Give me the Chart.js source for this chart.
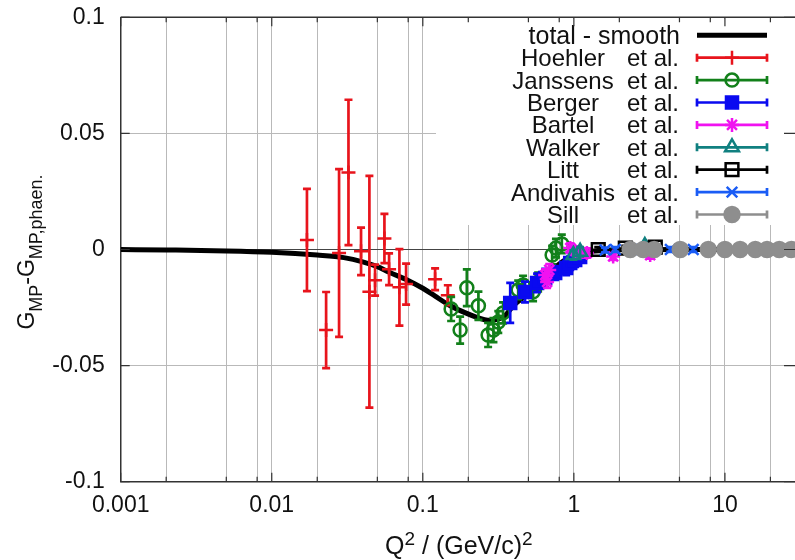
<!DOCTYPE html>
<html>
<head>
<meta charset="utf-8">
<script src="https://cdn.jsdelivr.net/npm/chart.js@4.4.1/dist/chart.umd.min.js"></script>
<style>
  html, body { margin: 0; padding: 0; background: #fff; overflow: hidden; }
  #wrap { width: 795px; height: 560px; overflow: hidden; position: relative; }
  #c { position: absolute; left: 0; top: 0; width: 800px; height: 560px; }
</style>
</head>
<body>
<div id="wrap"><canvas id="c" width="800" height="560"></canvas></div>
<script>
// ---- axis ticks ----
const xGridValues = [0.001, 0.002, 0.005, 0.008, 0.01, 0.02, 0.05, 0.08, 0.1, 0.2, 0.5, 0.8, 1, 2, 5, 8, 10, 20];
const xTickValues = [0.001, 0.01, 0.1, 1, 10];
const xTickLabels = ['0.001', '0.01', '0.1', '1', '10'];
const yTickValues = [-0.1, -0.05, 0, 0.05, 0.1];
const yTickLabels = ['-0.1', '-0.05', '0', '0.05', '0.1'];

// ---- total - smooth ----
const smoothQ2 = [0.001, 0.002, 0.005, 0.01, 0.02, 0.03, 0.04, 0.05, 0.06, 0.08, 0.1, 0.12, 0.15, 0.19, 0.23, 0.27, 0.3, 0.35, 0.4, 0.5, 0.6, 0.7, 0.85, 1.0, 1.3, 2, 5, 30];
const smoothG  = [0, -0.0002, -0.0006, -0.0012, -0.0024, -0.0035, -0.0053, -0.0074, -0.0098, -0.0133, -0.0167, -0.0200, -0.0240, -0.0272, -0.0293, -0.0305, -0.0303, -0.0285, -0.0240, -0.0190, -0.0135, -0.0095, -0.0050, -0.0028, -0.0008, -0.0001, 0, 0];

// ---- data sets: Q2, value, error ----
const hoehlerQ2  = [0.0171, 0.0229, 0.0279, 0.0322, 0.0390, 0.0443, 0.0483, 0.0557, 0.0598, 0.0700, 0.0775, 0.1206, 0.1464];
const hoehlerG   = [0.0041, -0.0347, -0.0015, 0.0332, -0.0008, -0.0182, -0.0132, 0.0047, -0.0085, -0.0163, -0.0149, -0.0128, -0.0197];
const hoehlerErr = [0.0220, 0.0164, 0.0361, 0.0313, 0.0102, 0.0499, 0.0067, 0.0106, 0.0068, 0.0165, 0.0088, 0.0047, 0.0043];

const janssensQ2  = [0.154, 0.1766, 0.1956, 0.2334, 0.2706, 0.2935, 0.316, 0.340, 0.428, 0.461, 0.537, 0.580, 0.718, 0.761, 0.832];
const janssensG   = [-0.0256, -0.0347, -0.0165, -0.0242, -0.0368, -0.0347, -0.0312, -0.0273, -0.0174, -0.0153, -0.0182, -0.0140, -0.0024, 0.0006, 0.0024];
const janssensErr = [0.0052, 0.0058, 0.0079, 0.0061, 0.0052, 0.0052, 0.0047, 0.0045, 0.0040, 0.0040, 0.0040, 0.0040, 0.0040, 0.0040, 0.0040];

const bergerQ2  = [0.379, 0.475, 0.571, 0.646, 0.752, 0.889, 0.946, 1.02, 1.10];
const bergerG   = [-0.0230, -0.0183, -0.0144, -0.0123, -0.0101, -0.0080, -0.0058, -0.0045, -0.0032];
const bergerErr = [0.0086, 0.0045, 0.0040, 0.0040, 0.0030, 0.0030, 0.0030, 0.0030, 0.0020];

const bartelQ2  = [0.646, 0.665, 0.687, 0.946, 1.02, 1.10, 1.22, 1.82, 3.2];
const bartelG   = [-0.0110, -0.0140, -0.0088, 0.0006, -0.0006, -0.0015, -0.0015, -0.0030, -0.0024];
const bartelErr = [0.0025, 0.0025, 0.0025, 0.0020, 0.0020, 0.0020, 0.0020, 0.0015, 0.0015];

const walkerQ2  = [0.993, 1.10, 2.95];
const walkerG   = [-0.0024, -0.0010, 0.0015];
const walkerErr = [0.0020, 0.0020, 0.0015];

const littQ2  = [1.45, 2.19, 3.46];
const littG   = [0.0000, 0.0006, 0.0010];
const littErr = [0.0010, 0.0010, 0.0010];

const andivahisQ2  = [1.61, 1.88, 2.76, 4.35, 6.17];
const andivahisG   = [-0.0002, 0.0000, 0.0000, 0.0000, 0.0000];
const andivahisErr = [0.0010, 0.0010, 0.0010, 0.0010, 0.0010];

const sillQ2  = [2.36, 2.88, 3.40, 5.06, 7.76, 10.0, 12.6, 15.9, 19.0, 22.9, 27.5];
const sillG   = [0, 0, 0, 0, 0, 0, 0, 0, 0, 0, 0];
const sillErr = [0.0008, 0.0008, 0.0008, 0.0008, 0.0008, 0.0008, 0.0008, 0.0008, 0.0008, 0.0008, 0.0008];

// ---- series appearance ----
const series = [
  { name: 'Hoehler',   q: hoehlerQ2,   g: hoehlerG,   e: hoehlerErr,   color: '#e8141c', style: 'cross',    r: 7,   fill: false },
  { name: 'Janssens',  q: janssensQ2,  g: janssensG,  e: janssensErr,  color: '#12801a', style: 'circle',   r: 6.5, fill: false },
  { name: 'Berger',    q: bergerQ2,    g: bergerG,    e: bergerErr,    color: '#0a0af0', style: 'rect',     r: 8.5, fill: true },
  { name: 'Bartel',    q: bartelQ2,    g: bartelG,    e: bartelErr,    color: '#f012f0', style: 'star',     r: 7,   fill: false },
  { name: 'Walker',    q: walkerQ2,    g: walkerG,    e: walkerErr,    color: '#108080', style: 'triangle', r: 8,   fill: false },
  { name: 'Litt',      q: littQ2,      g: littG,      e: littErr,      color: '#000000', style: 'rect',     r: 9,   fill: false },
  { name: 'Andivahis', q: andivahisQ2, g: andivahisG, e: andivahisErr, color: '#1a5cf5', style: 'crossRot', r: 7.5, fill: false },
  { name: 'Sill',      q: sillQ2,      g: sillG,      e: sillErr,      color: '#8e8e8e', style: 'circle',   r: 7.5, fill: true }
];

const FONT = "'Liberation Sans', Arial, Helvetica, sans-serif";
Chart.defaults.font.family = FONT;
Chart.defaults.color = '#111';

const datasets = [{
  label: 'total - smooth',
  data: smoothQ2.map((q, i) => ({ x: q, y: smoothG[i] })),
  showLine: true,
  borderColor: '#000',
  borderWidth: 5,
  pointRadius: 0,
  cubicInterpolationMode: 'monotone',
  borderJoinStyle: 'round',
  order: 20
}];
series.forEach((s, k) => {
  datasets.push({
    label: s.name + ' et al.',
    data: s.q.map((q, i) => ({ x: q, y: s.g[i] })),
    errors: s.e,
    showLine: false,
    borderColor: s.color,
    backgroundColor: s.fill ? s.color : 'rgba(0,0,0,0)',
    pointStyle: s.style,
    pointRadius: s.r,
    pointBorderWidth: 2.5,
    order: 10 - k
  });
});

// vertical error bars with caps, drawn just before each data set's markers
const errorBars = {
  id: 'errorBars',
  beforeDatasetDraw(chart, args) {
    const ds = chart.data.datasets[args.index];
    if (!ds.errors) return;
    const { ctx, chartArea: a } = chart;
    const xs = chart.scales.x, ys = chart.scales.y;
    ctx.save();
    ctx.beginPath();
    ctx.rect(a.left, a.top, a.right - a.left, a.bottom - a.top);
    ctx.clip();
    ctx.strokeStyle = ds.borderColor;
    ctx.lineWidth = 2.7;
    ds.data.forEach((p, i) => {
      const e = ds.errors[i];
      const px = xs.getPixelForValue(p.x);
      const y1 = ys.getPixelForValue(p.y + e);
      const y2 = ys.getPixelForValue(p.y - e);
      ctx.beginPath();
      ctx.moveTo(px, y1); ctx.lineTo(px, y2);
      ctx.moveTo(px - 4, y1); ctx.lineTo(px + 4, y1);
      ctx.moveTo(px - 4, y2); ctx.lineTo(px + 4, y2);
      ctx.stroke();
    });
    ctx.restore();
  }
};

function marker(ctx, s, x, y) {
  ctx.fillStyle = s.fill ? s.color : 'rgba(0,0,0,0)';
  ctx.strokeStyle = s.color;
  ctx.lineWidth = 2.5;
  Chart.helpers.drawPoint(ctx, { pointStyle: s.style, radius: s.r, rotation: 0, borderWidth: 2.5 }, x, y);
}

// opaque key in the upper right corner
const keyBox = {
  id: 'keyBox',
  afterDatasetsDraw(chart) {
    const ctx = chart.ctx;
    const a = chart.chartArea;
    ctx.save();
    ctx.fillStyle = '#fff';
    ctx.fillRect(436, a.top + 1.5, a.right - 436, 225 - a.top - 1.5);
    const rowY0 = 35.3, step = 22.4;
    const x1 = 697, x2 = 767, xm = (x1 + x2) / 2;
    ctx.font = '24px ' + FONT;
    ctx.fillStyle = '#111';
    ctx.textBaseline = 'alphabetic';
    // line entry
    ctx.textAlign = 'right';
    ctx.font = '25px ' + FONT;
    ctx.fillText('total - smooth', 680, rowY0 + 8.5);
    ctx.font = '24px ' + FONT;
    ctx.strokeStyle = '#000';
    ctx.lineWidth = 5;
    ctx.beginPath(); ctx.moveTo(x1, rowY0); ctx.lineTo(x2, rowY0); ctx.stroke();
    series.forEach((s, k) => {
      const y = rowY0 + step * (k + 1);
      ctx.fillStyle = '#111';
      ctx.textAlign = 'center';
      ctx.fillText(s.name, 563, y + 8.5);
      ctx.textAlign = 'left';
      ctx.fillText('et al.', 627, y + 8.5);
      ctx.strokeStyle = s.color;
      ctx.lineWidth = 2.7;
      ctx.beginPath();
      ctx.moveTo(x1, y); ctx.lineTo(x2, y);
      ctx.moveTo(x1, y - 4); ctx.lineTo(x1, y + 4);
      ctx.moveTo(x2, y - 4); ctx.lineTo(x2, y + 4);
      ctx.stroke();
      marker(ctx, s, xm, y);
    });
    ctx.restore();
  }
};

function richText(ctx, parts, x, y, big, small, shiftSup, shiftSub, measureOnly) {
  let w = 0;
  parts.forEach(p => {
    const sz = p.t === 'n' ? big : small;
    ctx.font = sz + 'px ' + FONT;
    const dy = p.t === 'sup' ? -shiftSup : (p.t === 'sub' ? shiftSub : 0);
    if (!measureOnly) ctx.fillText(p.s, x + w, y + dy);
    w += ctx.measureText(p.s).width;
  });
  return w;
}

// frame, inward tick marks and axis titles
const frame = {
  id: 'frame',
  afterDraw(chart) {
    const { ctx, chartArea: a } = chart;
    const xs = chart.scales.x, ys = chart.scales.y;
    ctx.save();
    ctx.strokeStyle = '#333';
    ctx.lineWidth = 1.5;
    ctx.beginPath(); ctx.moveTo(a.left, a.top); ctx.lineTo(a.right, a.top); ctx.stroke();
    ctx.lineWidth = 1.2;
    ctx.beginPath();
    xGridValues.forEach(v => {
      const px = xs.getPixelForValue(v);
      const len = xTickValues.includes(v) ? 9 : 5;
      ctx.moveTo(px, a.bottom); ctx.lineTo(px, a.bottom - len);
      ctx.moveTo(px, a.top); ctx.lineTo(px, a.top + len);
    });
    yTickValues.forEach(v => {
      const py = ys.getPixelForValue(v);
      ctx.moveTo(a.left, py); ctx.lineTo(a.left + 9, py);
      ctx.moveTo(a.right, py); ctx.lineTo(a.right - 13, py);
    });
    ctx.stroke();

    ctx.fillStyle = '#111';
    ctx.textAlign = 'left';
    ctx.textBaseline = 'alphabetic';
    // x title
    const xParts = [{ s: 'Q', t: 'n' }, { s: '2', t: 'sup' }, { s: ' / (GeV/c)', t: 'n' }, { s: '2', t: 'sup' }];
    const wx = richText(ctx, xParts, 0, 0, 25, 19, 9, 0, true);
    richText(ctx, xParts, (a.left + a.right) / 2 - wx / 2, 554, 25, 19, 9, 0, false);
    // y title, rotated
    const yParts = [{ s: 'G', t: 'n' }, { s: 'MP', t: 'sub' }, { s: '-G', t: 'n' }, { s: 'MP,phaen.', t: 'sub' }];
    const wy = richText(ctx, yParts, 0, 0, 23, 18, 0, 8, true);
    ctx.translate(34, 252);
    ctx.rotate(-Math.PI / 2);
    richText(ctx, yParts, -wy / 2, 0, 23, 18, 0, 8, false);
    ctx.restore();
  }
};

new Chart(document.getElementById('c'), {
  type: 'scatter',
  data: { datasets },
  plugins: [errorBars, keyBox, frame],
  options: {
    responsive: false,
    animation: false,
    events: [],
    layout: { autoPadding: false, padding: { top: 17.3, left: 0, right: 3, bottom: 0 } },
    plugins: { legend: { display: false }, tooltip: { enabled: false } },
    scales: {
      x: {
        type: 'logarithmic',
        min: 0.001,
        max: 30,
        afterBuildTicks: s => { s.ticks = xGridValues.map(v => ({ value: v })); },
        afterFit: s => { s.height = 78.3; s.paddingLeft = 0; s.paddingRight = 0; },
        ticks: {
          autoSkip: false, maxRotation: 0, minRotation: 0, padding: 0,
          font: { size: 23, lineHeight: 2.07 }, color: '#111',
          callback: v => { const i = xTickValues.indexOf(v); return i >= 0 ? xTickLabels[i] : ''; }
        },
        grid: { color: '#b9b9b9', lineWidth: 1, drawTicks: false },
        border: { display: true, color: '#333', width: 1.5 }
      },
      y: {
        min: -0.1,
        max: 0.1,
        afterBuildTicks: s => { s.ticks = yTickValues.map(v => ({ value: v })); },
        afterFit: s => { s.width = 120.7; s.paddingTop = 0; s.paddingBottom = 0; },
        ticks: {
          padding: 16, font: { size: 23 }, color: '#111',
          callback: v => { const i = yTickValues.indexOf(v); return i >= 0 ? yTickLabels[i] : ''; }
        },
        grid: {
          drawTicks: false, lineWidth: 1,
          color: c => {
            const v = c.tick ? c.tick.value : 1;
            if (v === 0) return '#444';
            if (Math.abs(v) > 0.09) return 'rgba(0,0,0,0)';
            return '#b9b9b9';
          }
        },
        border: { display: true, color: '#333', width: 1.5 }
      }
    }
  }
});
</script>
</body>
</html>
